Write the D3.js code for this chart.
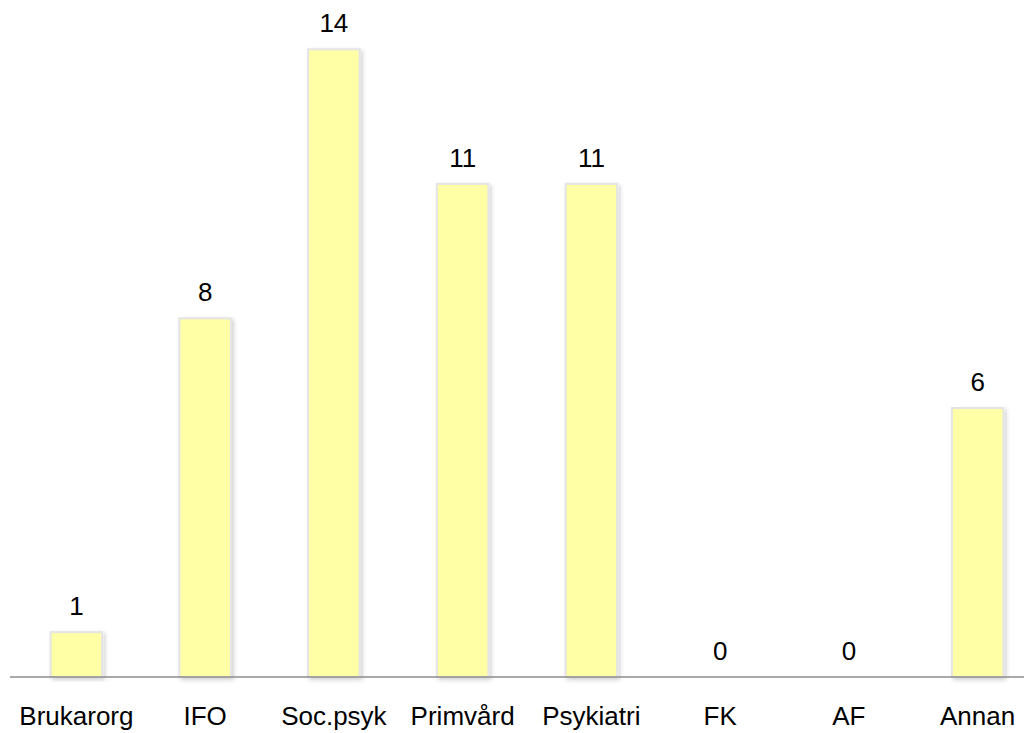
<!DOCTYPE html>
<html>
<head>
<meta charset="utf-8">
<script src="https://cdn.jsdelivr.net/npm/d3@7"></script>
<style>
  html, body { margin: 0; padding: 0; background: #fff; }
  svg text { font-family: "Liberation Sans", Arial, sans-serif; fill: #000; }
</style>
</head>
<body>
<div id="chart"></div>
<script>
const categories = ["Brukarorg", "IFO", "Soc.psyk", "Primvård", "Psykiatri", "FK", "AF", "Annan"];
const values = [1, 8, 14, 11, 11, 0, 0, 6];

const width = 1024, height = 733;
const baseY = 677;

let svg = d3.select("#chart")
  .append("svg")
    .attr("width", width)
    .attr("height", height);

let defs = svg.append("defs");
let filt = defs.append("filter")
  .attr("id", "shadow")
  .attr("x", "-20%").attr("y", "-5%")
  .attr("width", "150%").attr("height", "115%");
filt.append("feDropShadow")
  .attr("dx", 2).attr("dy", 2)
  .attr("stdDeviation", 2)
  .attr("flood-color", "#000")
  .attr("flood-opacity", 0.18);

let x = d3.scaleBand()
  .domain(categories)
  .range([12, 1042])
  .paddingInner(0.6)
  .paddingOuter(0.3);

let y = d3.scaleLinear()
  .domain([0, 15.1])
  .range([baseY, 0]);

// bars
svg.selectAll("rect.bar")
  .data(categories.map((c, i) => ({cat: c, val: values[i]})).filter(d => d.val > 0))
  .enter()
  .append("rect")
    .attr("class", "bar")
    .attr("x", d => x(d.cat))
    .attr("y", d => y(d.val))
    .attr("width", x.bandwidth())
    .attr("height", d => baseY - y(d.val))
    .attr("fill", "#ffffa6")
    .attr("stroke", "#e4e4e4")
    .attr("stroke-width", 2)
    .attr("filter", "url(#shadow)");

// baseline
svg.append("line")
  .attr("x1", 10).attr("x2", width)
  .attr("y1", baseY).attr("y2", baseY)
  .attr("stroke", "#8c8c8c")
  .attr("stroke-width", 1.5);

// value labels
svg.selectAll("text.val")
  .data(categories.map((c, i) => ({cat: c, val: values[i]})))
  .enter()
  .append("text")
    .attr("class", "val")
    .attr("x", d => x(d.cat) + x.bandwidth() / 2)
    .attr("y", d => y(d.val) - 17)
    .attr("text-anchor", "middle")
    .style("font-size", "26px")
    .text(d => d.val);

// category labels
svg.selectAll("text.cat")
  .data(categories)
  .enter()
  .append("text")
    .attr("class", "cat")
    .attr("x", d => x(d) + x.bandwidth() / 2)
    .attr("y", 725)
    .attr("text-anchor", "middle")
    .style("font-size", "26px")
    .text(d => d);
</script>
</body>
</html>
